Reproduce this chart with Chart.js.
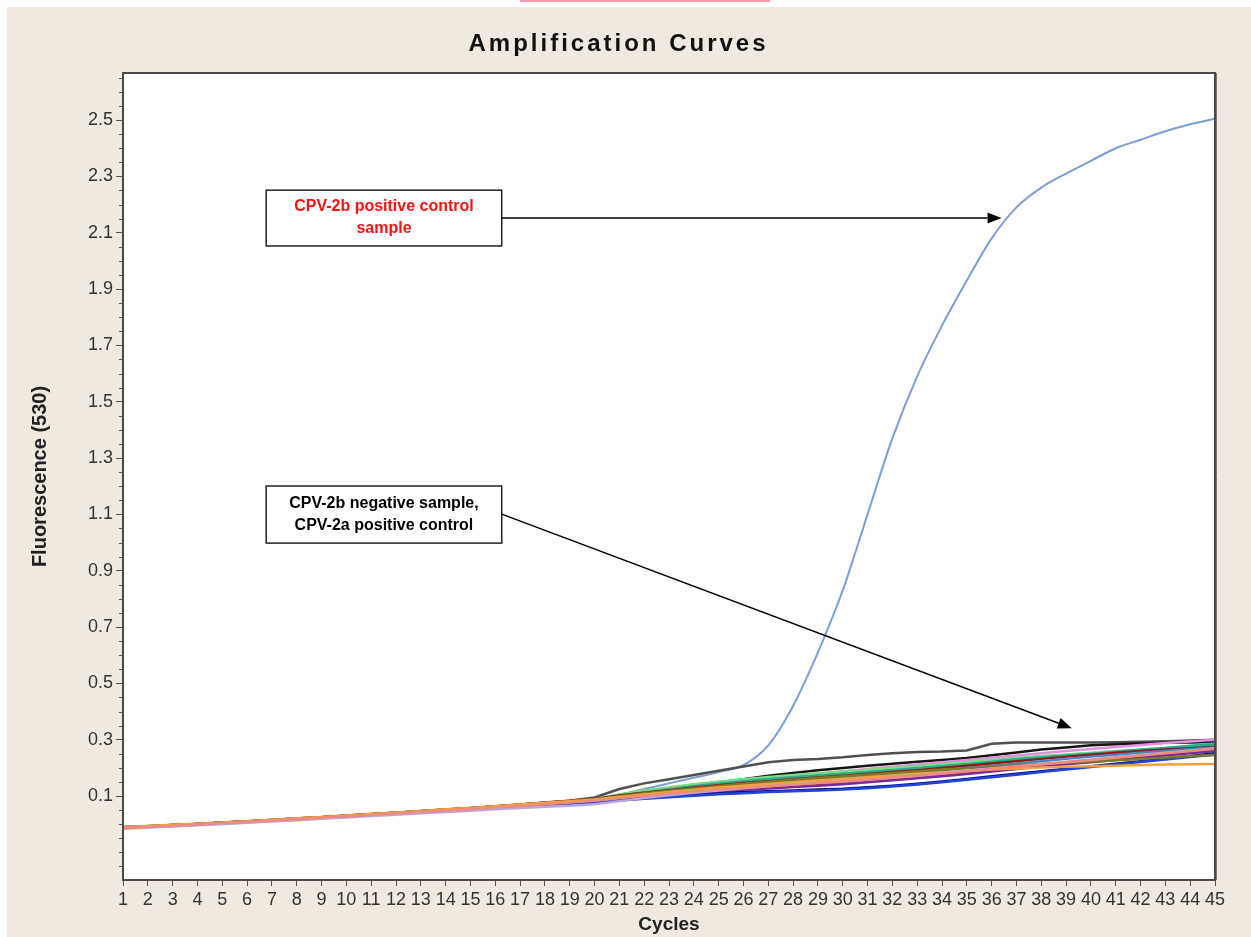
<!DOCTYPE html>
<html><head><meta charset="utf-8">
<script src="https://cdn.jsdelivr.net/npm/chart.js@4.4.1/dist/chart.umd.min.js"></script>
<style>
html,body{margin:0;padding:0;background:#fff;overflow:hidden;}
#bg{position:absolute;left:7px;top:7px;width:1244px;height:930px;background:#efe9e0;}
#pink{position:absolute;left:520px;top:0;width:250px;height:2px;background:#f19bab;}
#c{position:absolute;left:0;top:0;}
</style></head><body>
<div id="bg"></div><div id="pink"></div>
<canvas id="c" width="1251" height="937"></canvas>
<script>
// ---- data ----
const cycles = [1,2,3,4,5,6,7,8,9,10,11,12,13,14,15,16,17,18,19,20,21,22,23,24,25,26,27,28,29,30,31,32,33,34,35,36,37,38,39,40,41,42,43,44,45];
const yTickValues = [0.1,0.3,0.5,0.7,0.9,1.1,1.3,1.5,1.7,1.9,2.1,2.3,2.5];

const sGray = [-0.012,-0.008,-0.004,0.000,0.005,0.010,0.015,0.020,0.025,0.030,0.035,0.041,0.046,0.051,0.057,0.063,0.069,0.076,0.083,0.095,
 0.125,0.145,0.160,0.175,0.190,0.205,0.220,0.228,0.232,0.238,0.246,0.252,0.256,0.258,0.262,0.286,0.290,0.290,0.290,0.290,0.291,0.293,0.295,0.297,0.300];
const sBlack = [-0.013,-0.009,-0.004,0.001,0.005,0.010,0.014,0.019,0.025,0.030,0.035,0.040,0.046,0.051,0.056,0.062,0.068,0.074,0.080,0.088,
 0.100,0.112,0.124,0.136,0.148,0.160,0.172,0.182,0.192,0.200,0.208,0.215,0.222,0.228,0.235,0.245,0.255,0.265,0.272,0.280,0.284,0.287,0.289,0.290,0.292];
const sGreen = [-0.011,-0.007,-0.003,0.001,0.006,0.010,0.015,0.020,0.024,0.030,0.035,0.041,0.046,0.052,0.057,0.063,0.070,0.076,0.082,0.090,
 0.105,0.118,0.128,0.140,0.150,0.158,0.165,0.172,0.178,0.184,0.190,0.197,0.204,0.211,0.218,0.226,0.234,0.240,0.246,0.252,0.258,0.263,0.268,0.273,0.278];
const sTeal = [-0.012,-0.008,-0.003,0.000,0.005,0.010,0.014,0.019,0.024,0.030,0.034,0.040,0.045,0.050,0.056,0.062,0.068,0.075,0.081,0.088,
 0.102,0.113,0.124,0.135,0.145,0.153,0.160,0.167,0.172,0.178,0.185,0.192,0.199,0.206,0.213,0.222,0.231,0.238,0.244,0.250,0.257,0.264,0.271,0.278,0.284];
const sCyan = [-0.008,-0.006,-0.003,0.001,0.005,0.009,0.014,0.019,0.024,0.029,0.034,0.040,0.045,0.050,0.055,0.061,0.067,0.073,0.079,0.086,
 0.098,0.110,0.120,0.131,0.140,0.148,0.155,0.162,0.167,0.173,0.180,0.187,0.194,0.201,0.208,0.216,0.224,0.232,0.239,0.246,0.254,0.262,0.270,0.279,0.287];
const sPink = [-0.012,-0.008,-0.004,0.000,0.004,0.009,0.014,0.019,0.024,0.029,0.034,0.039,0.045,0.050,0.056,0.062,0.067,0.073,0.079,0.086,
 0.098,0.108,0.117,0.126,0.135,0.146,0.158,0.168,0.178,0.188,0.196,0.204,0.212,0.220,0.228,0.236,0.244,0.252,0.260,0.267,0.274,0.281,0.288,0.294,0.300];
const sLavender = [-0.016,-0.012,-0.008,-0.004,0.000,0.005,0.010,0.014,0.019,0.024,0.029,0.034,0.039,0.043,0.048,0.053,0.058,0.062,0.066,0.071,
 0.082,0.093,0.103,0.112,0.120,0.128,0.135,0.141,0.147,0.152,0.158,0.165,0.172,0.181,0.190,0.198,0.206,0.214,0.222,0.230,0.238,0.246,0.254,0.262,0.270];
const sPurple = [-0.013,-0.009,-0.005,-0.001,0.004,0.009,0.013,0.018,0.023,0.028,0.033,0.038,0.043,0.048,0.054,0.059,0.065,0.071,0.076,0.082,
 0.090,0.098,0.105,0.111,0.117,0.122,0.127,0.132,0.137,0.142,0.149,0.156,0.163,0.170,0.178,0.187,0.196,0.205,0.213,0.220,0.228,0.236,0.244,0.252,0.260];
const sRed = [-0.012,-0.008,-0.004,0.001,0.005,0.010,0.015,0.020,0.025,0.030,0.035,0.041,0.046,0.051,0.057,0.063,0.069,0.075,0.081,0.087,
 0.095,0.103,0.110,0.116,0.122,0.127,0.132,0.137,0.142,0.147,0.153,0.160,0.167,0.175,0.183,0.192,0.201,0.210,0.218,0.226,0.235,0.243,0.251,0.259,0.268];
const sDarkRed = [-0.011,-0.007,-0.003,0.001,0.006,0.011,0.015,0.020,0.025,0.031,0.036,0.041,0.047,0.052,0.058,0.064,0.070,0.077,0.083,0.090,
 0.102,0.112,0.121,0.130,0.138,0.146,0.153,0.160,0.166,0.172,0.178,0.185,0.192,0.200,0.208,0.216,0.224,0.232,0.240,0.247,0.254,0.260,0.265,0.270,0.275];
const sOrange = [-0.010,-0.006,-0.002,0.002,0.006,0.011,0.016,0.021,0.026,0.031,0.036,0.042,0.047,0.053,0.058,0.064,0.070,0.076,0.082,0.088,
 0.097,0.106,0.114,0.122,0.130,0.137,0.143,0.149,0.155,0.161,0.167,0.173,0.179,0.184,0.189,0.194,0.198,0.201,0.204,0.206,0.208,0.210,0.212,0.213,0.214];
const sNavy = [-0.013,-0.009,-0.005,-0.001,0.004,0.008,0.013,0.018,0.023,0.028,0.033,0.038,0.043,0.048,0.053,0.058,0.064,0.069,0.074,0.080,
 0.086,0.092,0.098,0.104,0.110,0.114,0.117,0.120,0.123,0.126,0.131,0.137,0.144,0.152,0.161,0.170,0.179,0.188,0.197,0.206,0.215,0.224,0.233,0.242,0.252];
const sBlue = [-0.014,-0.010,-0.006,-0.002,0.003,0.008,0.012,0.017,0.022,0.027,0.032,0.037,0.042,0.047,0.052,0.057,0.063,0.068,0.073,0.078,
 0.084,0.090,0.096,0.101,0.106,0.110,0.114,0.117,0.120,0.123,0.128,0.134,0.141,0.149,0.158,0.167,0.176,0.185,0.194,0.203,0.212,0.221,0.230,0.239,0.248];
const sOlive = [-0.011,-0.007,-0.003,0.001,0.005,0.010,0.015,0.020,0.025,0.030,0.035,0.040,0.046,0.051,0.057,0.063,0.069,0.075,0.081,0.088,
 0.099,0.110,0.119,0.128,0.136,0.144,0.151,0.158,0.164,0.170,0.176,0.182,0.188,0.194,0.200,0.205,0.210,0.214,0.218,0.222,0.227,0.232,0.237,0.242,0.246];
const sLightGreen = [-0.012,-0.008,-0.003,0.001,0.005,0.010,0.015,0.020,0.025,0.030,0.035,0.041,0.046,0.051,0.057,0.063,0.069,0.076,0.082,0.090,
 0.106,0.120,0.131,0.142,0.151,0.160,0.168,0.175,0.181,0.187,0.193,0.200,0.207,0.214,0.221,0.228,0.235,0.242,0.248,0.254,0.260,0.265,0.270,0.275,0.280];
const sSteel = [-0.012,-0.008,-0.004,0.000,0.005,0.009,0.014,0.019,0.024,0.029,0.034,0.040,0.045,0.050,0.056,0.061,0.067,0.073,0.079,0.085,
 0.096,0.106,0.115,0.123,0.131,0.139,0.146,0.152,0.158,0.164,0.171,0.178,0.185,0.192,0.200,0.208,0.216,0.224,0.232,0.240,0.247,0.254,0.260,0.266,0.272];
const sSalmon = [-0.013,-0.009,-0.005,-0.001,0.004,0.009,0.013,0.018,0.023,0.028,0.033,0.039,0.044,0.049,0.054,0.060,0.065,0.071,0.077,0.083,
 0.092,0.101,0.109,0.116,0.123,0.129,0.135,0.141,0.147,0.153,0.159,0.166,0.173,0.180,0.188,0.196,0.204,0.212,0.220,0.228,0.236,0.244,0.252,0.260,0.268];
const positiveControl = [-0.012,-0.008,-0.004,0.000,0.005,0.010,0.014,0.019,0.024,0.030,0.035,0.040,0.045,0.051,0.056,0.062,0.068,0.074,0.080,0.088,
 0.105,0.125,0.145,0.165,0.185,0.210,0.280,0.420,0.610,0.830,1.100,1.370,1.590,1.770,1.930,2.080,2.190,2.260,2.310,2.355,2.400,2.430,2.460,2.485,2.505];

const seriesList = [
  ['Salmon', sSalmon, '#f08a7a'],
  ['Lavender', sLavender, '#bda4de'],
  ['Orange', sOrange, '#f2a23c'],
  ['Olive', sOlive, '#7e7a22'],
  ['Blue', sBlue, '#2244d4'],
  ['Navy', sNavy, '#10108f'],
  ['Purple', sPurple, '#7a2a9a'],
  ['Red', sRed, '#e23a3a'],
  ['Steel', sSteel, '#4b86c4'],
  ['DarkRed', sDarkRed, '#9c1414'],
  ['Teal', sTeal, '#1fae9c'],
  ['Cyan', sCyan, '#3fd8e0'],
  ['LightGreen', sLightGreen, '#7edc7e'],
  ['Green', sGreen, '#2a8a3a'],
  ['Pink', sPink, '#e58ce6'],
  ['Black', sBlack, '#151515'],
  ['Gray', sGray, '#505050'],
];

// ---- annotations (anchored in data space) ----
const notes = [
  {lines:['CPV-2b positive control','sample'], color:'#ff1010',
   box:[6.77, 2.251, 16.26, 2.053], from:[16.26, 2.152], to:[36.4, 2.152]},
  {lines:['CPV-2b negative sample,','CPV-2a positive control'], color:'#000000',
   box:[6.77, 1.2006, 16.26, 0.998], from:[16.26, 1.101], to:[39.23, 0.341]}
];

const datasets = seriesList.map(([name, vals, col]) => ({
  label: name,
  data: cycles.map((c, i) => ({x: c, y: vals[i]})),
  borderColor: col, borderWidth: 2.5, pointRadius: 0, tension: 0, fill: false
}));
datasets.push({
  label: 'CPV-2b positive control',
  data: cycles.map((c, i) => ({x: c, y: positiveControl[i]})),
  borderColor: '#7a9ed6', borderWidth: 2, pointRadius: 0, cubicInterpolationMode: 'monotone', fill: false
});

const decorPlugin = {
  id: 'decor',
  beforeDraw(chart) {
    const tb = chart.titleBlock;
    if (tb && !tb._spaced) {
      const orig = tb.draw.bind(tb);
      tb.draw = function () { const c = this.ctx; c.save(); c.translate(11, 0); c.letterSpacing = '3px'; orig(); c.restore(); };
      tb._spaced = true;
    }
    const {ctx, chartArea: a} = chart;
    ctx.save(); ctx.fillStyle = '#ffffff';
    ctx.fillRect(a.left, a.top, a.right - a.left, a.bottom - a.top);
    ctx.restore();
  },
  afterDatasetsDraw(chart) {
    const {ctx, chartArea: a, scales: {x, y}} = chart;
    ctx.save();
    // plot frame
    ctx.strokeStyle = '#4a4a4a'; ctx.lineWidth = 2;
    ctx.strokeRect(a.left, a.top, a.right - a.left, a.bottom - a.top);
    ctx.strokeStyle = '#777'; ctx.lineWidth = 1;
    ctx.beginPath(); ctx.moveTo(a.right + 1.5, a.top); ctx.lineTo(a.right + 1.5, a.bottom); ctx.stroke();
    // minor ticks on y axis
    ctx.strokeStyle = '#555'; ctx.lineWidth = 1;
    for (let k = -4; k <= 53; k++) {
      const v = k * 0.05;
      if (v < y.min || v > y.max) continue;
      if (yTickValues.some(t => Math.abs(t - v) < 1e-6)) continue;
      const py = Math.round(y.getPixelForValue(v)) + 0.5;
      ctx.beginPath(); ctx.moveTo(a.left - 4, py); ctx.lineTo(a.left, py); ctx.stroke();
    }
    // annotation boxes and arrows
    notes.forEach(n => {
      const l = x.getPixelForValue(n.box[0]), t = y.getPixelForValue(n.box[1]);
      const r = x.getPixelForValue(n.box[2]), b = y.getPixelForValue(n.box[3]);
      ctx.fillStyle = '#fff'; ctx.fillRect(l, t, r - l, b - t);
      ctx.strokeStyle = '#222'; ctx.lineWidth = 1.5; ctx.strokeRect(l, t, r - l, b - t);
      ctx.fillStyle = n.color; ctx.font = 'bold 16px "Liberation Sans", Arial, sans-serif';
      ctx.textAlign = 'center'; ctx.textBaseline = 'middle';
      const cx = (l + r) / 2, cy = (t + b) / 2;
      ctx.fillText(n.lines[0], cx, cy - 11);
      ctx.fillText(n.lines[1], cx, cy + 11);
      const x0 = x.getPixelForValue(n.from[0]), y0 = y.getPixelForValue(n.from[1]);
      const x1 = x.getPixelForValue(n.to[0]), y1 = y.getPixelForValue(n.to[1]);
      const ang = Math.atan2(y1 - y0, x1 - x0), len = 14, hw = 5.5;
      const bx = x1 - len * Math.cos(ang), by = y1 - len * Math.sin(ang);
      ctx.strokeStyle = '#000'; ctx.lineWidth = 1.5;
      ctx.beginPath(); ctx.moveTo(x0, y0); ctx.lineTo(bx, by); ctx.stroke();
      ctx.fillStyle = '#000';
      ctx.beginPath(); ctx.moveTo(x1, y1);
      ctx.lineTo(bx + hw * Math.sin(ang), by - hw * Math.cos(ang));
      ctx.lineTo(bx - hw * Math.sin(ang), by + hw * Math.cos(ang));
      ctx.closePath(); ctx.fill();
    });
    ctx.restore();
  }
};

const FONT = '"Liberation Sans", Arial, sans-serif';
new Chart(document.getElementById('c'), {
  type: 'line',
  data: {datasets},
  plugins: [decorPlugin],
  options: {
    responsive: false, devicePixelRatio: 1, animation: false,
    layout: {padding: {left: 0, right: 36, top: 0, bottom: 0}},
    plugins: {
      legend: {display: false}, tooltip: {enabled: false},
      title: {display: true, text: 'Amplification Curves', color: '#111',
        font: {family: FONT, size: 24, weight: 'bold'}, padding: {top: 29.6, bottom: 14.6}}
    },
    scales: {
      x: {
        type: 'linear', min: 1, max: 45,
        afterBuildTicks: s => { s.ticks = cycles.map(v => ({value: v})); },
        afterFit: s => { s.height = 57; },
        grid: {drawOnChartArea: false, drawTicks: true, tickLength: 6, tickColor: '#555'},
        border: {display: true, color: '#4a4a4a', width: 2},
        ticks: {autoSkip: false, maxRotation: 0, minRotation: 0, padding: 3, color: '#333',
          font: {family: FONT, size: 18}},
        title: {display: true, text: 'Cycles', color: '#222', font: {family: FONT, size: 19, weight: 'bold'},
          padding: {top: 0, bottom: 1}}
      },
      y: {
        type: 'linear', min: -0.198, max: 2.667,
        afterBuildTicks: s => { s.ticks = yTickValues.map(v => ({value: v})); },
        afterFit: s => { s.width = 123; },
        grid: {drawOnChartArea: false, drawTicks: true, tickLength: 7, tickColor: '#555'},
        border: {display: true, color: '#4a4a4a', width: 2},
        ticks: {autoSkip: false, padding: 3, color: '#333', font: {family: FONT, size: 18},
          callback: v => Number(v).toFixed(1)},
        title: {display: true, text: 'Fluorescence (530)', color: '#222',
          font: {family: FONT, size: 20, weight: 'bold'}, padding: {top: 28, bottom: 0}}
      }
    }
  }
});
</script>
</body></html>
